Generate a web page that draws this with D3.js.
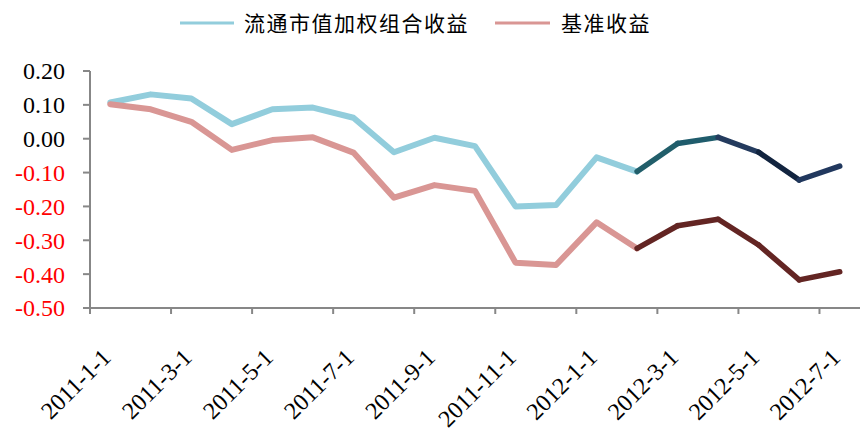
<!DOCTYPE html>
<html><head><meta charset="utf-8">
<script src="https://cdn.jsdelivr.net/npm/d3@7"></script>
<style>body{margin:0;background:#fff}svg{display:block}</style>
</head><body><svg id="c" width="867" height="444"></svg>
<script>
const categories = ["2011-1-1","2011-2-1","2011-3-1","2011-4-1","2011-5-1","2011-6-1","2011-7-1","2011-8-1","2011-9-1","2011-10-1","2011-11-1","2011-12-1","2012-1-1","2012-2-1","2012-3-1","2012-4-1","2012-5-1","2012-6-1","2012-7-1"];
const portfolio = [0.107,0.131,0.119,0.043,0.087,0.092,0.062,-0.040,0.003,-0.022,-0.200,-0.196,-0.055,-0.097,-0.014,0.004,-0.040,-0.122,-0.081];
const benchmark = [0.102,0.087,0.050,-0.033,-0.004,0.004,-0.041,-0.174,-0.137,-0.154,-0.366,-0.373,-0.247,-0.324,-0.257,-0.238,-0.314,-0.417,-0.393];
const yTicks = [0.2,0.1,0,-0.1,-0.2,-0.3,-0.4,-0.5];
const seriesNames = ["流通市值加权组合收益","基准收益"];

const lightColors = ["#92CDDC","#D99694"];
const darkStart = 13;
const portfolioDark = ["#215E6A","#1F5C6C","#243B5E","#12243F","#21385E"];
const benchmarkDark = ["#632523","#632523","#632523","#632523","#632523"];

(function () {
const svg = d3.select("#c");
const pl = 90, pr = 860, pt = 71, pb = 308;
const x = d3.scaleBand().domain(categories).range([pl, pr]).padding(0);
const bw = x.bandwidth();
const cx = c => x(c) + bw / 2;
const y = d3.scaleLinear().domain([-0.5, 0.2]).range([pb, pt]);
const axisColor = "#878787";

// y axis
const ya = svg.append("g");
ya.append("line").attr("x1", pl).attr("x2", pl).attr("y1", y(0.2)).attr("y2", y(-0.5))
  .attr("stroke", axisColor).attr("stroke-width", 2);
yTicks.forEach(t => {
  ya.append("line").attr("x1", pl - 7).attr("x2", pl).attr("y1", y(t)).attr("y2", y(t))
    .attr("stroke", axisColor).attr("stroke-width", 2);
  ya.append("text").attr("x", pl - 25).attr("y", y(t)).attr("dy", "0.35em")
    .attr("text-anchor", "end").attr("font-family", "Liberation Serif, Times New Roman, serif")
    .attr("font-size", 24).attr("fill", t < 0 ? "#FF0000" : "#000")
    .text(d3.format(".2f")(t).replace("−", "-"));
});

// x axis
const xa = svg.append("g");
xa.append("line").attr("x1", pl).attr("x2", pr).attr("y1", pb).attr("y2", pb)
  .attr("stroke", axisColor).attr("stroke-width", 2);
categories.forEach((c, i) => {
  if (i % 2 !== 0) return;
  xa.append("line").attr("x1", x(c)).attr("x2", x(c)).attr("y1", pb).attr("y2", pb + 6)
    .attr("stroke", axisColor).attr("stroke-width", 2);
  xa.append("text").attr("transform", `translate(${cx(c) + 2},${pb + 51}) rotate(-45)`)
    .attr("text-anchor", "end").attr("font-family", "Liberation Serif, Times New Roman, serif")
    .attr("font-size", 24).attr("fill", "#000").text(c);
});

// lines
function drawSeries(vals, light, dark) {
  const line = d3.line().x((d, i) => cx(categories[i])).y(d => y(d));
  const pts = vals.map((v, i) => [cx(categories[i]), y(v)]);
  svg.append("path").attr("d", line(vals.slice(0, darkStart + 1)))
    .attr("fill", "none").attr("stroke", light).attr("stroke-width", 6)
    .attr("stroke-linejoin", "round").attr("stroke-linecap", "round");
  for (let i = darkStart; i < vals.length - 1; i++) {
    svg.append("line").attr("x1", pts[i][0]).attr("y1", pts[i][1]).attr("x2", pts[i+1][0]).attr("y2", pts[i+1][1])
      .attr("stroke", dark[i - darkStart]).attr("stroke-width", 5.5).attr("stroke-linecap", "round");
  }
}
drawSeries(portfolio, lightColors[0], portfolioDark);
drawSeries(benchmark, lightColors[1], benchmarkDark);

// legend
const lg = svg.append("g");
const legendItems = [{x: 180, w: 54, tx: 244}, {x: 495, w: 55, tx: 561}];
seriesNames.forEach((n, i) => {
  const L = legendItems[i];
  lg.append("line").attr("x1", L.x).attr("x2", L.x + L.w).attr("y1", 23).attr("y2", 23)
    .attr("stroke", lightColors[i]).attr("stroke-width", 3);
  lg.append("text").attr("x", L.tx).attr("y", 23).attr("dy", "0.36em")
    .attr("font-family", "Noto Sans CJK SC").attr("font-size", 21).attr("letter-spacing", 1.5)
    .attr("fill", "#000").text(n);
});
})();
</script></body></html>
